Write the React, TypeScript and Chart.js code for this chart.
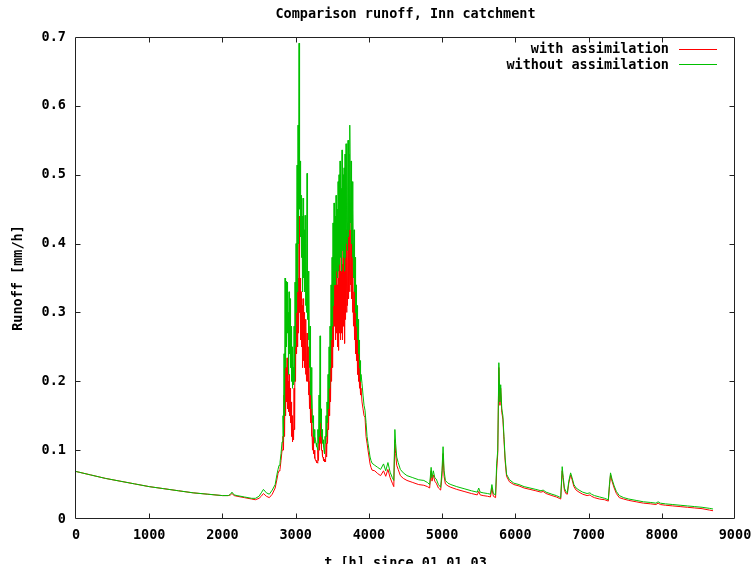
import React, { useEffect, useRef } from "react";
import { Chart, registerables } from "chart.js";

Chart.register(...registerables);

const FONT = '"DejaVu Sans Mono", "Liberation Mono", monospace';

const chartTitle = "Comparison runoff, Inn catchment";
const xAxisTitle = "t [h] since 01.01.03";
const yAxisTitle = "Runoff [mm/h]";
const seriesLabels = ["with assimilation", "without assimilation"];
const seriesColors = ["#ff0000", "#00c000"];

const xTickValues = [0, 1000, 2000, 3000, 4000, 5000, 6000, 7000, 8000, 9000];
const xTickLabels = ["0", "1000", "2000", "3000", "4000", "5000", "6000", "7000", "8000", "9000"];
const yTickValues = [0, 0.1, 0.2, 0.3, 0.4, 0.5, 0.6, 0.7];
const yTickLabels = ["0", "0.1", "0.2", "0.3", "0.4", "0.5", "0.6", "0.7"];

// Recession before the flood season
const hoursEarly = [0, 200, 400, 600, 800, 1000, 1200, 1400, 1600, 1800, 2000, 2080, 2110, 2130, 2160, 2200, 2300, 2400, 2450, 2500, 2530, 2560, 2600, 2640, 2680, 2720, 2745, 2759, 2773, 2786, 2800, 2814];
const withoutEarly = [0.069, 0.064, 0.059, 0.055, 0.051, 0.047, 0.044, 0.041, 0.038, 0.036, 0.034, 0.034, 0.036, 0.039, 0.035, 0.034, 0.032, 0.030, 0.030, 0.033, 0.038, 0.043, 0.038, 0.036, 0.042, 0.050, 0.065, 0.072, 0.078, 0.082, 0.095, 0.112];
const withEarly = [0.069, 0.064, 0.059, 0.055, 0.051, 0.047, 0.044, 0.041, 0.038, 0.036, 0.034, 0.034, 0.035, 0.037, 0.034, 0.033, 0.031, 0.029, 0.028, 0.030, 0.033, 0.037, 0.033, 0.031, 0.036, 0.045, 0.058, 0.066, 0.070, 0.072, 0.085, 0.100];

// Flood season: each step has an hourly high and a following low
const floodPeakHours = [2827, 2841, 2855, 2868, 2882, 2896, 2909, 2923, 2937, 2950, 2964, 2978, 2991, 3005, 3019, 3032, 3046, 3060, 3073, 3087, 3101, 3114, 3128, 3141, 3155, 3169, 3182, 3196, 3210, 3223, 3237, 3251, 3264, 3278, 3292, 3305, 3319, 3333, 3346, 3360, 3374, 3387, 3401, 3415, 3428, 3442, 3456, 3469, 3483, 3497, 3510, 3524, 3538, 3551, 3565, 3579, 3592, 3606, 3620, 3633, 3647, 3661, 3674, 3688, 3701, 3715, 3729, 3742, 3756, 3770, 3783, 3797, 3811, 3824, 3838, 3852, 3865, 3879];
const floodTroughHours = [2834, 2848, 2862, 2875, 2889, 2903, 2916, 2930, 2944, 2957, 2971, 2985, 2998, 3012, 3026, 3039, 3053, 3067, 3080, 3094, 3108, 3121, 3135, 3148, 3162, 3176, 3189, 3203, 3217, 3230, 3244, 3258, 3271, 3285, 3299, 3312, 3326, 3340, 3353, 3367, 3381, 3394, 3408, 3422, 3435, 3449, 3463, 3476, 3490, 3504, 3517, 3531, 3545, 3558, 3572, 3586, 3599, 3613, 3627, 3640, 3654, 3668, 3681, 3695, 3708, 3722, 3736, 3749, 3763, 3777, 3790, 3804, 3818, 3831, 3845, 3859, 3872, 3886];
const withoutFloodPeaks = [0.15, 0.24, 0.35, 0.345, 0.344, 0.30, 0.33, 0.32, 0.28, 0.25, 0.22, 0.28, 0.344, 0.40, 0.514, 0.572, 0.691, 0.52, 0.47, 0.44, 0.466, 0.42, 0.441, 0.40, 0.502, 0.36, 0.34, 0.28, 0.22, 0.18, 0.15, 0.13, 0.12, 0.11, 0.105, 0.13, 0.18, 0.266, 0.16, 0.13, 0.115, 0.10, 0.12, 0.15, 0.17, 0.21, 0.25, 0.28, 0.34, 0.38, 0.43, 0.459, 0.44, 0.47, 0.45, 0.49, 0.50, 0.52, 0.48, 0.536, 0.50, 0.51, 0.53, 0.545, 0.52, 0.55, 0.53, 0.572, 0.52, 0.49, 0.45, 0.42, 0.38, 0.34, 0.31, 0.29, 0.26, 0.23];
const withoutFloodTroughs = [0.12, 0.15, 0.22, 0.25, 0.27, 0.21, 0.24, 0.22, 0.20, 0.19, 0.195, 0.20, 0.25, 0.30, 0.33, 0.40, 0.45, 0.41, 0.38, 0.33, 0.35, 0.33, 0.31, 0.30, 0.29, 0.26, 0.22, 0.18, 0.16, 0.14, 0.12, 0.11, 0.115, 0.105, 0.10, 0.11, 0.12, 0.14, 0.12, 0.11, 0.105, 0.095, 0.11, 0.12, 0.14, 0.16, 0.19, 0.22, 0.26, 0.28, 0.31, 0.34, 0.34, 0.36, 0.35, 0.36, 0.37, 0.38, 0.36, 0.39, 0.38, 0.36, 0.38, 0.40, 0.39, 0.41, 0.42, 0.43, 0.40, 0.38, 0.35, 0.33, 0.30, 0.28, 0.26, 0.24, 0.22, 0.20];
const withFloodPeaks = [0.12, 0.18, 0.23, 0.22, 0.234, 0.20, 0.21, 0.19, 0.17, 0.15, 0.13, 0.19, 0.26, 0.32, 0.335, 0.35, 0.44, 0.35, 0.33, 0.31, 0.32, 0.30, 0.29, 0.28, 0.27, 0.25, 0.23, 0.20, 0.16, 0.14, 0.12, 0.10, 0.09, 0.085, 0.083, 0.10, 0.13, 0.15, 0.13, 0.10, 0.09, 0.087, 0.085, 0.11, 0.13, 0.16, 0.19, 0.22, 0.26, 0.30, 0.34, 0.395, 0.36, 0.37, 0.34, 0.35, 0.37, 0.36, 0.38, 0.37, 0.39, 0.38, 0.40, 0.42, 0.41, 0.43, 0.44, 0.459, 0.42, 0.40, 0.36, 0.33, 0.30, 0.28, 0.26, 0.24, 0.22, 0.20];
const withFloodTroughs = [0.10, 0.12, 0.15, 0.17, 0.16, 0.156, 0.15, 0.14, 0.12, 0.112, 0.115, 0.13, 0.20, 0.24, 0.25, 0.27, 0.30, 0.26, 0.25, 0.22, 0.23, 0.22, 0.21, 0.20, 0.20, 0.18, 0.16, 0.14, 0.12, 0.10, 0.095, 0.088, 0.085, 0.082, 0.081, 0.085, 0.10, 0.11, 0.10, 0.09, 0.085, 0.083, 0.083, 0.09, 0.11, 0.13, 0.15, 0.17, 0.20, 0.22, 0.25, 0.28, 0.26, 0.27, 0.25, 0.245, 0.27, 0.26, 0.27, 0.26, 0.28, 0.255, 0.29, 0.30, 0.31, 0.32, 0.33, 0.34, 0.32, 0.30, 0.28, 0.26, 0.24, 0.23, 0.21, 0.20, 0.19, 0.18];

// Summer / autumn events
const hoursMid = [3893, 3906, 3920, 3934, 3947, 3961, 3975, 3988, 4002, 4016, 4029, 4043, 4080, 4120, 4160, 4200, 4230, 4260, 4290, 4320, 4340, 4355, 4365, 4380, 4400, 4430, 4470, 4520, 4600, 4680, 4750, 4800, 4830, 4850, 4862, 4880, 4900, 4920, 4950, 4980, 4998, 5013, 5027, 5045, 5080, 5120, 5200, 5300, 5400, 5480, 5500, 5520, 5560, 5620, 5660, 5680, 5700, 5730, 5745, 5760, 5775, 5790, 5800, 5815, 5830, 5845, 5860, 5880, 5920, 5980];
const withoutMid = [0.21, 0.197, 0.18, 0.165, 0.158, 0.14, 0.12, 0.11, 0.10, 0.09, 0.085, 0.081, 0.078, 0.075, 0.072, 0.08, 0.07, 0.082, 0.068, 0.06, 0.056, 0.13, 0.11, 0.09, 0.082, 0.072, 0.067, 0.063, 0.06, 0.057, 0.056, 0.053, 0.05, 0.075, 0.06, 0.07, 0.06, 0.058, 0.05, 0.046, 0.07, 0.105, 0.07, 0.056, 0.052, 0.05, 0.047, 0.044, 0.041, 0.039, 0.045, 0.039, 0.038, 0.037, 0.036, 0.05, 0.037, 0.035, 0.08, 0.1, 0.227, 0.17, 0.195, 0.16, 0.15, 0.12, 0.09, 0.065, 0.057, 0.052];
const withMid = [0.19, 0.17, 0.16, 0.15, 0.148, 0.12, 0.11, 0.10, 0.09, 0.08, 0.075, 0.071, 0.07, 0.066, 0.063, 0.07, 0.062, 0.072, 0.06, 0.052, 0.047, 0.115, 0.095, 0.078, 0.072, 0.063, 0.059, 0.056, 0.053, 0.05, 0.049, 0.047, 0.045, 0.07, 0.055, 0.064, 0.055, 0.052, 0.045, 0.042, 0.062, 0.095, 0.062, 0.051, 0.048, 0.046, 0.043, 0.04, 0.037, 0.035, 0.04, 0.035, 0.034, 0.033, 0.032, 0.045, 0.033, 0.031, 0.07, 0.095, 0.22, 0.165, 0.19, 0.155, 0.145, 0.115, 0.085, 0.062, 0.054, 0.05];

// Late-year recession
const hoursTail = [6050, 6120, 6200, 6280, 6350, 6380, 6420, 6500, 6560, 6600, 6620, 6640, 6655, 6670, 6690, 6710, 6730, 6755, 6775, 6800, 6830, 6870, 6920, 6980, 7020, 7040, 7080, 7150, 7220, 7270, 7285, 7300, 7320, 7350, 7380, 7420, 7480, 7550, 7650, 7750, 7850, 7920, 7950, 7980, 8050, 8150, 8250, 8350, 8450, 8550, 8650, 8700];
const withoutTail = [0.05, 0.047, 0.045, 0.043, 0.041, 0.042, 0.039, 0.036, 0.034, 0.032, 0.031, 0.076, 0.06, 0.045, 0.04, 0.038, 0.055, 0.067, 0.06, 0.05, 0.045, 0.042, 0.039, 0.037, 0.038, 0.036, 0.034, 0.032, 0.03, 0.028, 0.05, 0.067, 0.058, 0.048, 0.04, 0.034, 0.031, 0.029, 0.027, 0.025, 0.024, 0.023, 0.025, 0.023, 0.022, 0.021, 0.02, 0.019, 0.018, 0.017, 0.0155, 0.0145];
const withTail = [0.048, 0.045, 0.043, 0.041, 0.039, 0.04, 0.037, 0.034, 0.032, 0.030, 0.029, 0.07, 0.056, 0.042, 0.037, 0.036, 0.052, 0.064, 0.057, 0.047, 0.042, 0.039, 0.036, 0.034, 0.035, 0.033, 0.031, 0.029, 0.028, 0.026, 0.047, 0.064, 0.055, 0.045, 0.037, 0.031, 0.029, 0.027, 0.025, 0.023, 0.022, 0.021, 0.023, 0.021, 0.020, 0.019, 0.018, 0.017, 0.016, 0.015, 0.013, 0.012];

type Pt = { x: number; y: number };

function buildSeries(early: number[], peaks: number[], troughs: number[], mid: number[], tail: number[]): Pt[] {
  const pts: Pt[] = [];
  hoursEarly.forEach((h, i) => pts.push({ x: h, y: early[i] }));
  floodPeakHours.forEach((h, i) => {
    pts.push({ x: h, y: peaks[i] });
    pts.push({ x: floodTroughHours[i], y: troughs[i] });
  });
  hoursMid.forEach((h, i) => pts.push({ x: h, y: mid[i] }));
  hoursTail.forEach((h, i) => pts.push({ x: h, y: tail[i] }));
  return pts;
}

const tickFont = { family: FONT, size: 13.5, weight: "bold" as const };

const gnuplotDecor = {
  id: "gnuplotDecor",
  afterDraw(chart: any) {
    const { ctx, chartArea, scales } = chart;
    const xs = scales.x;
    const ys = scales.y;
    const L = Math.round(chartArea.left) - 0.5;
    const R = Math.round(chartArea.right) - 0.5;
    const T = Math.round(chartArea.top) + 0.5;
    const B = Math.round(chartArea.bottom) - 0.5;
    const tl = 5;
    ctx.save();
    ctx.strokeStyle = "#222";
    ctx.lineWidth = 1;
    ctx.beginPath();
    ctx.rect(L, T, R - L, B - T);
    xTickValues.slice(1, -1).forEach((v) => {
      const px = Math.round(xs.getPixelForValue(v)) + 0.5;
      ctx.moveTo(px, B);
      ctx.lineTo(px, B - tl);
      ctx.moveTo(px, T);
      ctx.lineTo(px, T + tl);
    });
    yTickValues.slice(1, -1).forEach((v) => {
      const py = Math.round(ys.getPixelForValue(v)) + 0.5;
      ctx.moveTo(L, py);
      ctx.lineTo(L + tl, py);
      ctx.moveTo(R, py);
      ctx.lineTo(R - tl, py);
    });
    ctx.stroke();

    ctx.fillStyle = "#000";
    ctx.font = `bold 13.5px ${FONT}`;
    ctx.textAlign = "center";
    ctx.textBaseline = "middle";
    ctx.fillText(chartTitle, (chartArea.left + chartArea.right) / 2, 14);

    ctx.textAlign = "right";
    seriesLabels.forEach((label, i) => {
      const cy = 49.5 + i * 15.5;
      ctx.fillStyle = "#000";
      ctx.fillText(label, chartArea.right - 66, cy);
      ctx.strokeStyle = seriesColors[i];
      ctx.beginPath();
      const ly = Math.round(cy) - 0.5;
      ctx.moveTo(chartArea.right - 56, ly);
      ctx.lineTo(chartArea.right - 18, ly);
      ctx.stroke();
    });
    ctx.restore();
  },
};

const zeroPadding = (s: any) => {
  s.paddingLeft = 0;
  s.paddingRight = 0;
  s.paddingTop = 0;
  s.paddingBottom = 0;
};

export default function App() {
  const canvasRef = useRef<HTMLCanvasElement | null>(null);

  useEffect(() => {
    const canvas = canvasRef.current;
    if (!canvas) return;
    const chart = new Chart(canvas, {
      type: "line",
      data: {
        datasets: [
          {
            label: seriesLabels[0],
            data: buildSeries(withEarly, withFloodPeaks, withFloodTroughs, withMid, withTail),
            borderColor: seriesColors[0],
            borderWidth: 1,
            pointRadius: 0,
            tension: 0,
            fill: false,
            borderJoinStyle: "bevel",
            order: 2,
          },
          {
            label: seriesLabels[1],
            data: buildSeries(withoutEarly, withoutFloodPeaks, withoutFloodTroughs, withoutMid, withoutTail),
            borderColor: seriesColors[1],
            borderWidth: 1,
            pointRadius: 0,
            tension: 0,
            fill: false,
            borderJoinStyle: "bevel",
            order: 1,
          },
        ],
      },
      options: {
        animation: false,
        responsive: false,
        layout: { padding: { top: 37, right: 20, left: 0, bottom: 0 } },
        plugins: {
          legend: { display: false },
          title: { display: false },
          tooltip: { enabled: false },
        },
        scales: {
          x: {
            type: "linear",
            min: 0,
            max: 9000,
            afterBuildTicks: (s: any) => {
              s.ticks = xTickValues.map((v) => ({ value: v }));
            },
            afterFit: (s: any) => {
              s.height = 45;
              zeroPadding(s);
            },
            grid: { display: false, drawTicks: false },
            border: { display: false },
            ticks: {
              padding: 8,
              color: "#000",
              font: tickFont,
              maxRotation: 0,
              autoSkip: false,
              callback: (_v: any, i: number) => xTickLabels[i],
            },
            title: {
              display: true,
              text: xAxisTitle,
              color: "#000",
              font: { ...tickFont, lineHeight: 0.6 },
              padding: { top: 0, bottom: -4 },
            },
          },
          y: {
            type: "linear",
            min: 0,
            max: 0.7,
            afterBuildTicks: (s: any) => {
              s.ticks = yTickValues.map((v) => ({ value: v }));
            },
            afterFit: (s: any) => {
              s.width = 76;
              zeroPadding(s);
            },
            grid: { display: false, drawTicks: false },
            border: { display: false },
            ticks: {
              padding: 10,
              color: "#000",
              font: tickFont,
              autoSkip: false,
              callback: (_v: any, i: number) => yTickLabels[i],
            },
            title: {
              display: true,
              text: yAxisTitle,
              color: "#000",
              font: tickFont,
              padding: { top: 10, bottom: 0 },
            },
          },
        },
      },
      plugins: [gnuplotDecor],
    });
    return () => chart.destroy();
  }, []);

  return (
    <div style={{ position: "absolute", left: 0, top: 0, width: 755, height: 564, background: "#fff" }}>
      <canvas ref={canvasRef} width={755} height={564} style={{ display: "block" }} />
    </div>
  );
}
